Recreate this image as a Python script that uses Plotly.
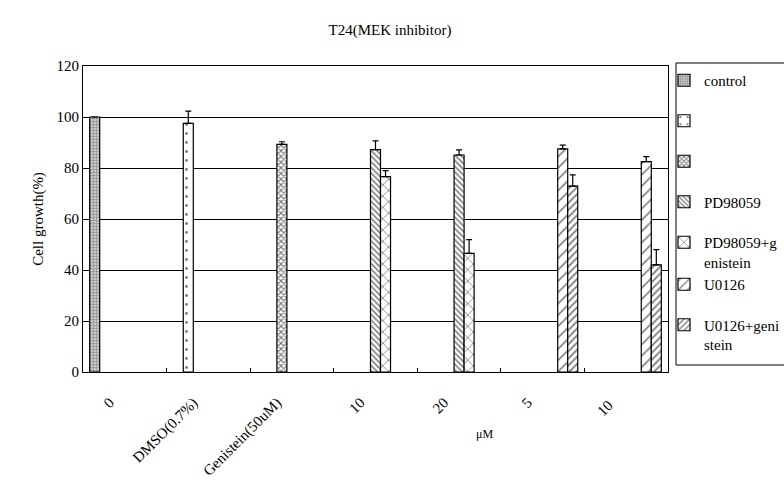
import plotly.graph_objects as go

categories = ["0", "DMSO(0.7%)", "Genistein(50uM)", "10", "20", "5", "10 "]
series_names = ["control", " ", "  ", "PD98059", "PD98059+g<br>enistein", "U0126", "U0126+geni<br>stein"]
legend_groups = ["g0", "g1", "g2", "g3", "g4", "g4", "g6"]

control = [100, None, None, None, None, None, None]
dmso = [None, 97.5, None, None, None, None, None]
genistein = [None, None, 89.3, None, None, None, None]
pd98059 = [None, None, None, 87.2, 85.1, None, None]
pd_gen = [None, None, None, 76.6, 46.5, None, None]
u0126 = [None, None, None, None, None, 87.5, 82.5]
u_gen = [None, None, None, None, None, 72.9, 42.0]

control_err = [0, 0, 0, 0, 0, 0, 0]
dmso_err = [0, 4.8, 0, 0, 0, 0, 0]
genistein_err = [0, 0, 1.0, 0, 0, 0, 0]
pd98059_err = [0, 0, 0, 3.4, 2.0, 0, 0]
pd_gen_err = [0, 0, 0, 2.4, 5.4, 0, 0]
u0126_err = [0, 0, 0, 0, 0, 1.5, 2.0]
u_gen_err = [0, 0, 0, 0, 0, 4.4, 6.0]

values = [control, dmso, genistein, pd98059, pd_gen, u0126, u_gen]
errors = [control_err, dmso_err, genistein_err, pd98059_err, pd_gen_err, u0126_err, u_gen_err]

patterns = [
    dict(shape=".", size=3, solidity=0.5, fgcolor="#444", bgcolor="#d8d8d8"),
    dict(shape=".", size=9, solidity=0.08, fgcolor="black", bgcolor="white"),
    dict(shape="x", size=4, solidity=0.5, fgcolor="black", bgcolor="white"),
    dict(shape="\\", size=4, solidity=0.4, fgcolor="black", bgcolor="white"),
    dict(shape="x", size=8, solidity=0.2, fgcolor="black", bgcolor="white"),
    dict(shape="/", size=8, solidity=0.2, fgcolor="black", bgcolor="white"),
    dict(shape="/", size=5, solidity=0.35, fgcolor="black", bgcolor="white"),
]

FONT = "Liberation Serif"

fig = go.Figure()
for i, (name, vals, errs, pat) in enumerate(zip(series_names, values, errors, patterns)):
    fig.add_trace(go.Bar(
        x=categories, y=vals, name=name, legendgroup=legend_groups[i],
        marker=dict(color="white", pattern=pat, line=dict(color="black", width=1.2)),
        error_y=dict(type="data", array=errs, arrayminus=[0] * len(errs), symmetric=False,
                     color="black", thickness=1.2, width=3, visible=True),
    ))

fig.update_layout(
    width=784, height=490,
    margin=dict(l=83, r=116, t=66, b=118, autoexpand=False),
    paper_bgcolor="white", plot_bgcolor="white",
    barmode="group", bargap=0.16, bargroupgap=0,
    font=dict(family=FONT, size=15, color="black"),
    title=dict(text="T24(MEK inhibitor)", x=(390 - 83) / 585, xref="paper", xanchor="center",
               y=1 - 30 / 490, yref="container", yanchor="middle",
               font=dict(size=15, family=FONT)),
    legend=dict(x=(664 - 83) / 585, y=(372 - 64) / 306, xanchor="left", yanchor="top",
                borderwidth=0, bgcolor="rgba(0,0,0,0)", valign="top",
                tracegroupgap=18, font=dict(size=15, family=FONT), itemwidth=30,
                maxheight=440),
    showlegend=True,
)
fig.add_shape(type="rect", xref="paper", yref="paper",
              x0=(676 - 83) / 585, x1=1.4, y0=(372 - 365) / 306, y1=(372 - 63) / 306,
              line=dict(color="black", width=1), fillcolor="rgba(0,0,0,0)", layer="below")
fig.update_xaxes(
    type="category", tickangle=-45, tickson="boundaries", ticks="inside", ticklen=4,
    tickcolor="black", showline=True, linecolor="black", linewidth=1, mirror=True,
    showgrid=False, tickfont=dict(size=15, family=FONT),
    ticklabelshift=-15, ticklabelstandoff=15,
)
fig.update_yaxes(
    range=[0, 120], dtick=20, ticks="inside", ticklen=3, tickcolor="black",
    showline=True, linecolor="black", linewidth=1, mirror=True,
    showgrid=True, gridcolor="black", gridwidth=1, zeroline=False,
    title=dict(text="Cell growth(%)", standoff=9, font=dict(size=15, family=FONT)),
    tickfont=dict(size=15, family=FONT),
)
fig.add_annotation(text="\u03bcM", x=(495 - 83) / 585, y=(372 - 443) / 306, xref="paper", yref="paper",
                   showarrow=False, font=dict(size=12, family=FONT))
fig.write_html("out.html", config={"displayModeBar": False},
               post_script="document.body.style.margin='0';")
